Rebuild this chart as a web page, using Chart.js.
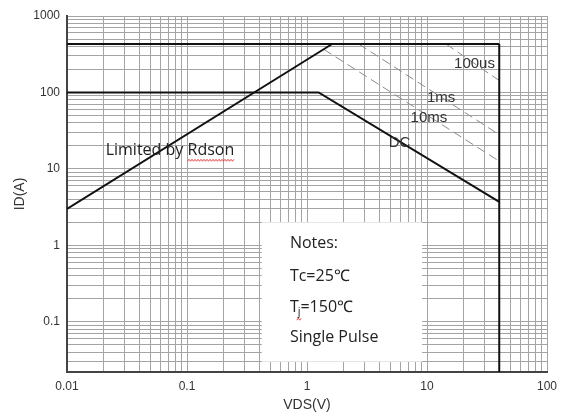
<!DOCTYPE html>
<html lang="en">
<head>
    <meta charset="UTF-8">
    <title>Safe Operating Area</title>
    <script src="https://cdn.jsdelivr.net/npm/chart.js@4.4.1/dist/chart.umd.min.js"></script>
    <style>
        html, body { margin: 0; padding: 0; background: #fff; }
        .chart-box { position: relative; width: 568px; height: 418px; }
    </style>
</head>
<body>
    <div class="chart-box">
        <canvas id="soaChart"></canvas>
    </div>
    <script>
        // Values (VDS in V, ID in A)
        const rdsonV = [0.01, 1.62];
        const rdsonI = [3, 430];
        const pulseV = [0.01, 40];
        const pulseI = [430, 430];
        const vdsMaxV = [40, 40];
        const vdsMaxI = [430, 0.01];
        const dcV = [0.01, 1.25, 40];
        const dcI = [100, 100, 3.7];
        const t100usV = [14.4, 40];
        const t100usI = [430, 143];
        const t1msV = [2.7, 40];
        const t1msI = [430, 28];
        const t10msV = [1.38, 40];
        const t10msI = [366, 12.6];

        // Tick labels
        const xTickLabels = [0.01, 0.1, 1, 10, 100];
        const yTickLabels = [0.1, 1, 10, 100, 1000];

        const xMin = 0.01, xMax = 100;
        const yMin = 0.022, yMax = 1000;

        const toPoints = (xs, ys) => xs.map((x, i) => ({ x: x, y: ys[i] }));

        // 1..9 grid for every decade inside [min, max]
        function decadeGrid(min, max) {
            const out = [];
            for (let e = Math.floor(Math.log10(min)); e <= Math.ceil(Math.log10(max)); e++) {
                for (let m = 1; m <= 9; m++) {
                    const v = +(m * Math.pow(10, e)).toPrecision(3);
                    if (v >= min * 0.999 && v <= max * 1.001) out.push(v);
                }
            }
            return out;
        }

        const solid = { borderColor: '#111', borderWidth: 2, pointRadius: 0, showLine: true, fill: false };
        const dashed = { borderColor: '#8a8a8a', borderWidth: 1, borderDash: [9, 5], pointRadius: 0, showLine: true, fill: false };

        // Annotation text, anchored in data units
        const labelFont = '15px "Liberation Sans", Arial, sans-serif';
        const noteFont = '16px "Open Sans", sans-serif';
        const curveLabels = [
            { text: '100us', x: 16.8, y: 236 },
            { text: '1ms', x: 10, y: 84 },
            { text: '10ms', x: 7.3, y: 46 },
            { text: 'DC', x: 4.8, y: 21.8 }
        ];
        const notesBox = { x0: 0.42, x1: 9.1, y0: 2.0, y1: 0.03 };
        const notesX = 0.72;
        const notesY = [1.07, 0.395, 0.155, 0.063];

        const annotations = {
            id: 'annotations',
            beforeDatasetsDraw(chart) {
                const { ctx, scales: { x, y } } = chart;
                ctx.save();
                ctx.fillStyle = '#fff';
                const bx = x.getPixelForValue(notesBox.x0);
                const by = y.getPixelForValue(notesBox.y0);
                ctx.fillRect(bx, by, x.getPixelForValue(notesBox.x1) - bx, y.getPixelForValue(notesBox.y1) - by);
                ctx.restore();
            },
            afterDatasetsDraw(chart) {
                const { ctx, scales: { x, y } } = chart;
                ctx.save();
                ctx.textBaseline = 'middle';
                ctx.textAlign = 'left';

                ctx.fillStyle = '#333';
                ctx.font = labelFont;
                curveLabels.forEach(l => ctx.fillText(l.text, x.getPixelForValue(l.x), y.getPixelForValue(l.y)));

                // Limited by Rdson, with the spell-check squiggle
                ctx.font = noteFont;
                ctx.fillStyle = '#222';
                const lx = x.getPixelForValue(0.021);
                const ly = y.getPixelForValue(17.5);
                const pre = 'Limited by ';
                ctx.fillText(pre + 'Rdson', lx, ly);
                const sx = lx + ctx.measureText(pre).width;
                const sw = ctx.measureText('Rdson').width;
                squiggle(ctx, sx, ly + 10, sw);

                // Notes
                const nx = x.getPixelForValue(notesX);
                ctx.font = noteFont;
                ctx.fillText('Notes:', nx, y.getPixelForValue(notesY[0]));
                ctx.fillText('Tc=25\u2103', nx, y.getPixelForValue(notesY[1]));
                const ty = y.getPixelForValue(notesY[2]);
                ctx.fillText('T', nx, ty);
                const tw = ctx.measureText('T').width;
                ctx.font = '11px "Open Sans", sans-serif';
                ctx.fillText('j', nx + tw - 1, ty + 5);
                const jw = ctx.measureText('j').width;
                squiggle(ctx, nx + tw - 2, ty + 12, jw + 3);
                ctx.font = noteFont;
                ctx.fillStyle = '#222';
                ctx.fillText('=150\u2103', nx + tw + jw - 1, ty);
                ctx.fillText('Single Pulse', nx, y.getPixelForValue(notesY[3]));
                ctx.restore();
            }
        };

        function squiggle(ctx, x0, yb, w) {
            ctx.save();
            ctx.strokeStyle = '#d22';
            ctx.lineWidth = 0.8;
            ctx.beginPath();
            for (let i = 0; i <= w; i += 1.5) {
                const yy = yb + ((Math.round(i / 1.5) % 2) ? -1 : 1);
                if (i === 0) ctx.moveTo(x0 + i, yy); else ctx.lineTo(x0 + i, yy);
            }
            ctx.stroke();
            ctx.restore();
            ctx.fillStyle = '#222';
        }

        const tickFont = { family: '"Liberation Sans", Arial, sans-serif', size: 12 };
        const titleFont = { family: '"Liberation Sans", Arial, sans-serif', size: 14 };

        new Chart(document.getElementById('soaChart'), {
            type: 'scatter',
            data: {
                datasets: [
                    { ...solid, data: toPoints(pulseV, pulseI) },
                    { ...solid, data: toPoints(rdsonV, rdsonI) },
                    { ...solid, data: toPoints(dcV, dcI) },
                    { ...solid, data: toPoints(vdsMaxV, vdsMaxI) },
                    { ...dashed, data: toPoints(t100usV, t100usI) },
                    { ...dashed, data: toPoints(t1msV, t1msI) },
                    { ...dashed, data: toPoints(t10msV, t10msI) }
                ]
            },
            options: {
                responsive: true,
                maintainAspectRatio: false,
                animation: false,
                layout: { padding: { left: 0, right: 21, top: 16, bottom: 0 } },
                plugins: { legend: { display: false }, tooltip: { enabled: false } },
                scales: {
                    x: {
                        type: 'logarithmic',
                        min: xMin,
                        max: xMax,
                        afterBuildTicks: s => { s.ticks = decadeGrid(xMin, xMax).map(v => ({ value: v })); },
                        afterFit: s => { s.height = 46; },
                        grid: { color: '#a4a4a4', lineWidth: 1, drawTicks: false },
                        border: { color: '#444', width: 2 },
                        ticks: {
                            autoSkip: false, maxRotation: 0, minRotation: 0, padding: 7,
                            color: '#333', font: tickFont,
                            callback: v => xTickLabels.includes(+v.toPrecision(3)) ? String(+v.toPrecision(3)) : ''
                        },
                        title: { display: true, text: 'VDS(V)', color: '#333', font: titleFont, padding: { top: 0, bottom: 4 } }
                    },
                    y: {
                        type: 'logarithmic',
                        min: yMin,
                        max: yMax,
                        afterBuildTicks: s => { s.ticks = decadeGrid(yMin, yMax).map(v => ({ value: v })); },
                        afterFit: s => { s.width = 67; },
                        grid: { color: '#a4a4a4', lineWidth: 1, drawTicks: false },
                        border: { color: '#444', width: 2 },
                        ticks: {
                            autoSkip: false, padding: 7,
                            color: '#333', font: tickFont,
                            callback: v => yTickLabels.includes(+v.toPrecision(3)) ? String(+v.toPrecision(3)) : ''
                        },
                        title: { display: true, text: 'ID(A)', color: '#333', font: titleFont, padding: { top: 12, bottom: 0 } }
                    }
                }
            },
            plugins: [annotations]
        });
    </script>
</body>
</html>
